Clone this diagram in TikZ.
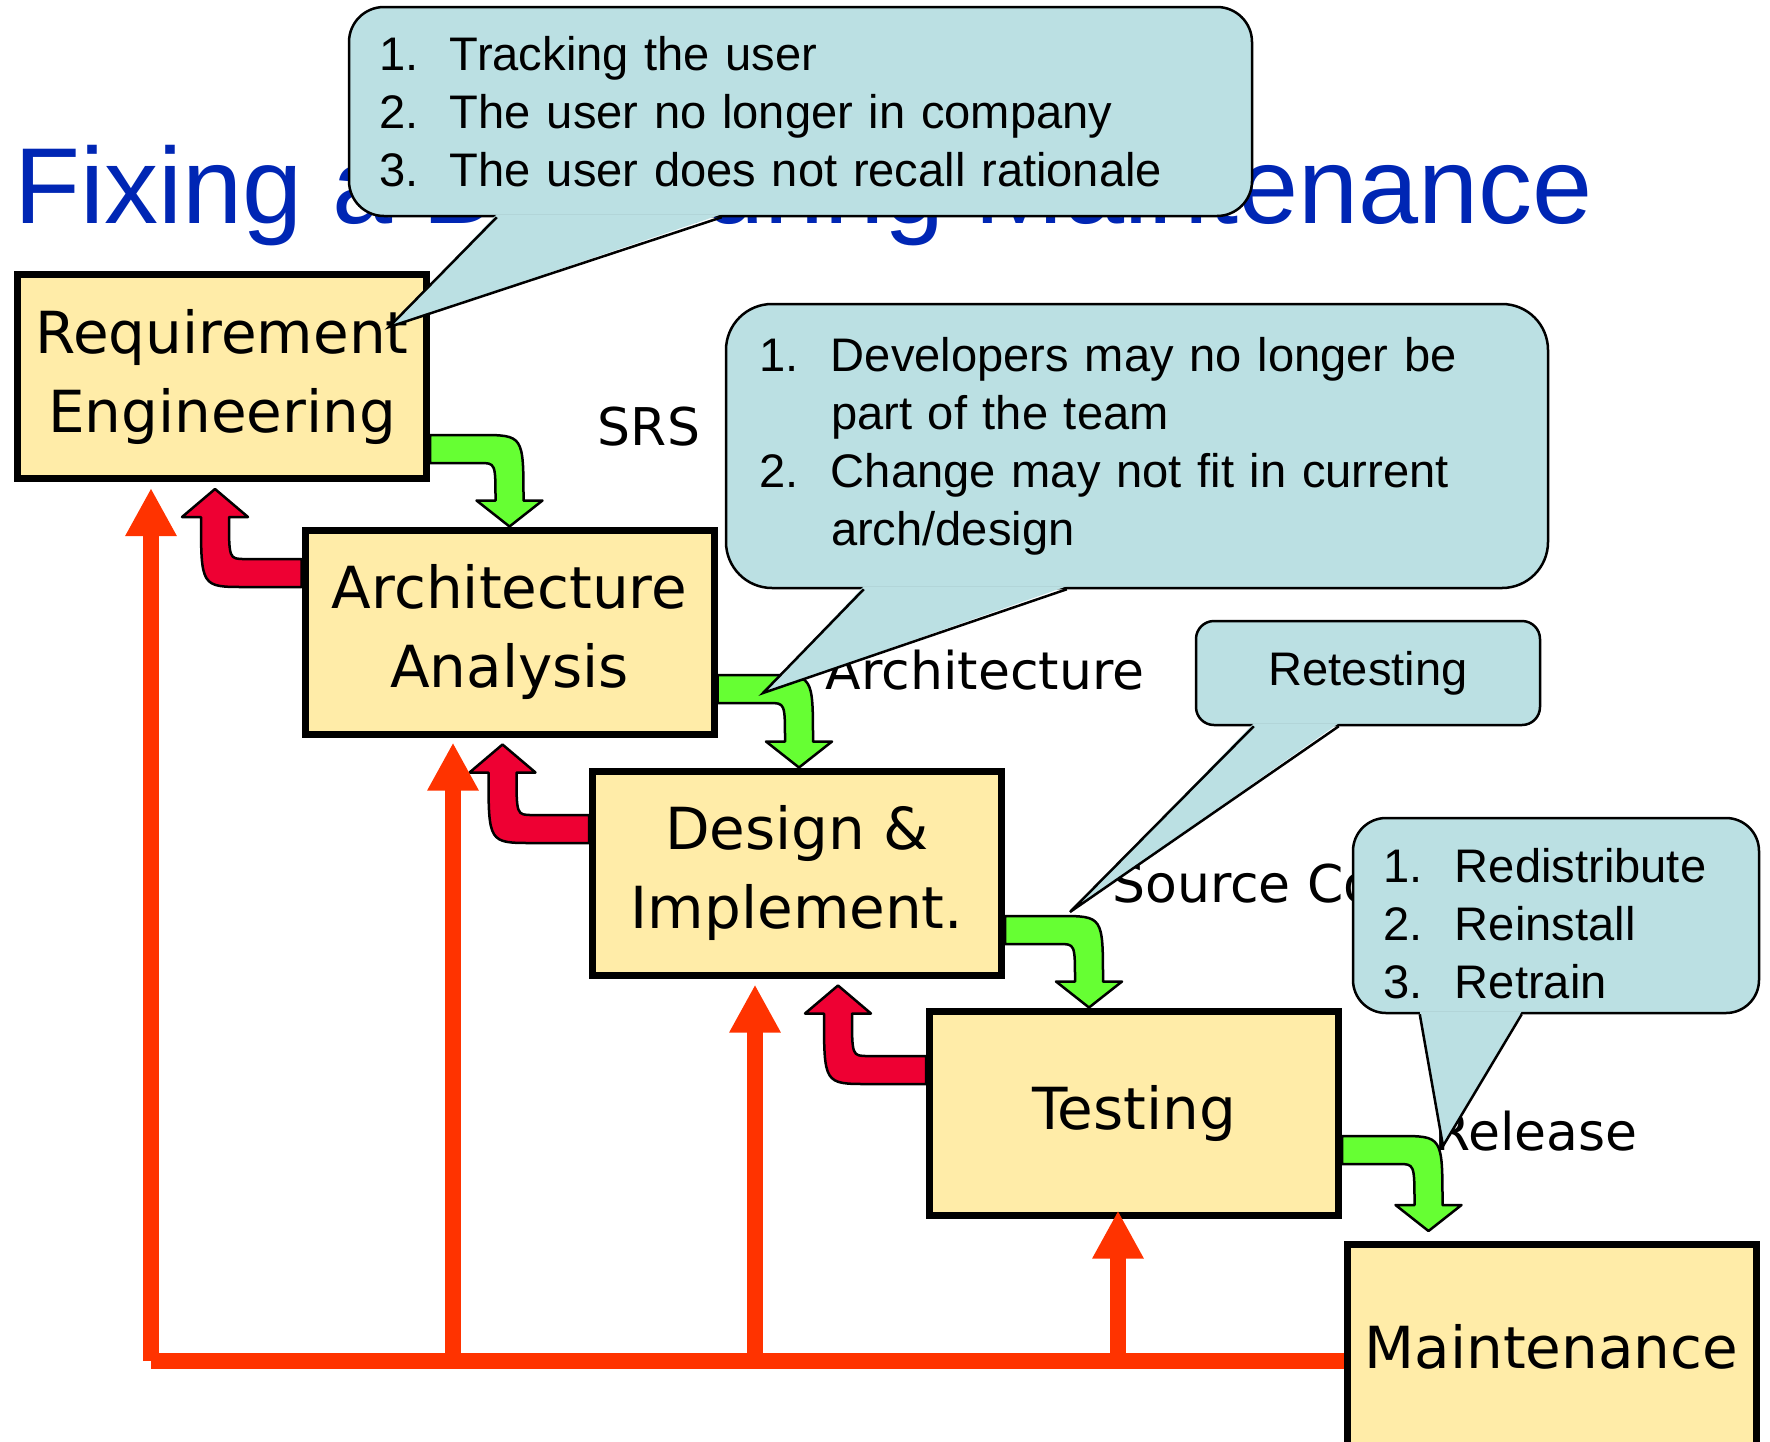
\documentclass[tikz,border=0pt]{standalone}
\usepackage{fontspec}
\usepackage{tikz}
\usetikzlibrary{calc, arrows.meta}
\newfontfamily\calloutfont{Liberation Sans}
\newfontfamily\stagefont{DejaVu Sans}
\definecolor{stagefill}{RGB}{255,236,168}
\definecolor{bubblefill}{RGB}{187,224,227}
\definecolor{fwdgreen}{RGB}{102,255,51}
\definecolor{backred}{RGB}{238,0,51}
\definecolor{busorange}{RGB}{255,51,0}
\definecolor{titleblue}{RGB}{0,38,180}
\tikzset{stage/.style={draw, line width=7pt, fill=stagefill, % phase boxes
    minimum width=409pt, minimum height=204pt, align=center,
    font=\stagefont\fontsize{58pt}{79pt}\selectfont},
    bubble/.style={draw, line width=2.5pt, fill=bubblefill, inner xsep=0pt, % callouts
    align=left, font=\calloutfont\fontsize{47.1pt}{58pt}\selectfont},
    bubbletail/.style={fill=bubblefill},
    bubbleedge/.style={draw, line width=2.5pt},
    flowlabel/.style={inner sep=0pt, font=\stagefont\fontsize{52pt}{62pt}\selectfont},
    fwdflow/.style={draw, line width=2.5pt, fill=fwdgreen, line join=round},
    backflow/.style={draw, line width=2.5pt, fill=backred, line join=round},
    bus/.style={draw=busorange, line width=16pt},
    feedback/.style={bus, -{Triangle[length=48pt, width=48pt]}}}
% bent arrow: shaft goes right, then turns down onto the tip
\newcommand{\flowdown}[2]{%
  \filldraw[fwdflow] let \p1=#1, \p2=#2 in
    (\x1,\y1+14pt) -- (\x2-30pt,\y1+14pt)
    .. controls (\x2+14pt,\y1+14pt) .. (\x2+14pt,\y2+26pt)
    -- (\x2+33pt,\y2+26pt) -- (\x2,\y2) -- (\x2-33pt,\y2+26pt) -- (\x2-14pt,\y2+26pt)
    .. controls (\x2-14pt,\y1-14pt) .. (\x2-30pt,\y1-14pt)
    -- (\x1,\y1-14pt) -- cycle;}
% bent arrow: shaft goes left, then turns up onto the tip
\newcommand{\flowup}[2]{%
  \filldraw[backflow] let \p1=#1, \p2=#2 in
    (\x1,\y1+14pt) -- (\x2+30pt,\y1+14pt)
    .. controls (\x2+14pt,\y1+14pt) .. (\x2+14pt,\y2-28pt)
    -- (\x2+33pt,\y2-28pt) -- (\x2,\y2) -- (\x2-33pt,\y2-28pt) -- (\x2-14pt,\y2-28pt)
    .. controls (\x2-14pt,\y1-14pt) .. (\x2+30pt,\y1-14pt)
    -- (\x1,\y1-14pt) -- cycle;}
% callout tail from two points on the bubble to a tip
\newcommand{\wedgeto}[3]{%
  \fill[bubbletail] ([yshift=3pt]#1) -- (#3) -- ([yshift=3pt]#2) -- cycle;
  \draw[bubbleedge] (#1) -- (#3) -- (#2);}

\begin{document}
\begin{tikzpicture}[x=1pt, y=-1pt]
  \useasboundingbox (0,0) rectangle (1770,1441);
  \clip (0,0) rectangle (1770,1441);

  \node[anchor=base west, inner sep=0pt, text=titleblue,
        font=\calloutfont\fontsize{108pt}{120pt}\selectfont] (title) at (14,223) {Fixing a Bug during Maintenance};

  \node[stage] (req) at (222,376.5) {Requirement\\Engineering};
  \node[stage] (arch) at (509.5,632) {Architecture\\Analysis};
  \node[stage] (design) at (797,873) {Design \&\\Implement.};
  \node[stage] (test) at (1134,1113) {Testing};
  \node[stage] (maint) at (1551.5,1346.5) {Maintenance};

  \flowdown{($(req.east)+(0,72.5)$)}{(arch.north)}
  \flowdown{($(arch.east)+(0,57)$)}{($(design.north)+(2,0)$)}
  \flowdown{($(design.east)+(0,57)$)}{($(test.north)+(-45,0)$)}
  \flowdown{($(test.east)+(0,37)$)}{($(maint.north)+(-123,-10)$)}

  \flowup{($(arch.west)+(0,-59)$)}{($(req.south west)+(201,7)$)}
  \flowup{($(design.west)+(0,-44)$)}{($(arch.south)+(-7,7)$)}
  \flowup{($(test.west)+(0,-43)$)}{($(design.south)+(41,7)$)}

  \coordinate (b1) at (151,1361);
  \coordinate (b2) at (453,1361);
  \coordinate (b3) at (755,1361);
  \coordinate (b4) at (1118,1361);
  \draw[bus] (b1) -- (b1 -| maint.west);
  \draw[feedback] (b1) -- ($(b1 |- req.south)+(0,6)$);
  \draw[feedback] (b2) -- ($(b2 |- arch.south)+(0,5)$);
  \draw[feedback] (b3) -- ($(b3 |- design.south)+(0,6)$);
  \draw[feedback] (b4) -- ($(b4 |- test.south)+(0,-8)$);

  \node[flowlabel] (srs) at (649,427) {SRS};
  \node[flowlabel] (archdoc) at (985,670) {Architecture};
  \node[flowlabel, anchor=west] (code) at (1112,883) {Source Code};
  \node[flowlabel] (release) at (1536,1131) {Release};

  \node[bubble, rounded corners=35pt, minimum width=903pt, minimum height=209pt, text width=843pt] (users) at (800.5,111.5)
    {\makebox[71pt][l]{1.}Tracking the user\\
     \makebox[71pt][l]{2.}The user no longer in company\\
     \makebox[71pt][l]{3.}The user does not recall rationale};
  \coordinate (usersL) at ($(users.south west)+(149,0)$);
  \coordinate (usersR) at ($(users.south west)+(374,0)$);
  \coordinate (usersT) at (389,327);
  \wedgeto{usersL}{usersR}{usersT}

  \node[bubble, rounded corners=46pt, minimum width=822pt, minimum height=284pt, text width=756pt] (team) at (1137,446)
    {\makebox[72pt][l]{1.}Developers may no longer be\\
     \hspace*{72pt}part of the team\\
     \makebox[72pt][l]{2.}Change may not fit in current\\
     \hspace*{72pt}arch/design};
  \coordinate (teamL) at ($(team.south west)+(139,0)$);
  \coordinate (teamR) at ($(team.south west)+(342,0)$);
  \coordinate (teamT) at (763,693);
  \wedgeto{teamL}{teamR}{teamT}

  \node[bubble, rounded corners=18pt, minimum width=344pt, minimum height=104pt] (retest) at (1368,673) {Retesting};
  \coordinate (retestL) at ($(retest.south west)+(59,0)$);
  \coordinate (retestR) at ($(retest.south west)+(144,0)$);
  \coordinate (retestT) at (1070,912);
  \wedgeto{retestL}{retestR}{retestT}

  \node[bubble, rounded corners=33pt, minimum width=406pt, minimum height=195pt, text width=346pt] (ship) at (1556,915.5)
    {\rule{0pt}{50pt}\makebox[72pt][l]{1.}Redistribute\\
     \makebox[72pt][l]{2.}Reinstall\\
     \makebox[72pt][l]{3.}Retrain};
  \coordinate (shipL) at ($(ship.south west)+(68,0)$);
  \coordinate (shipR) at ($(ship.south west)+(170,0)$);
  \coordinate (shipT) at (1443,1146);
  \wedgeto{shipL}{shipR}{shipT}
\end{tikzpicture}
\end{document}
